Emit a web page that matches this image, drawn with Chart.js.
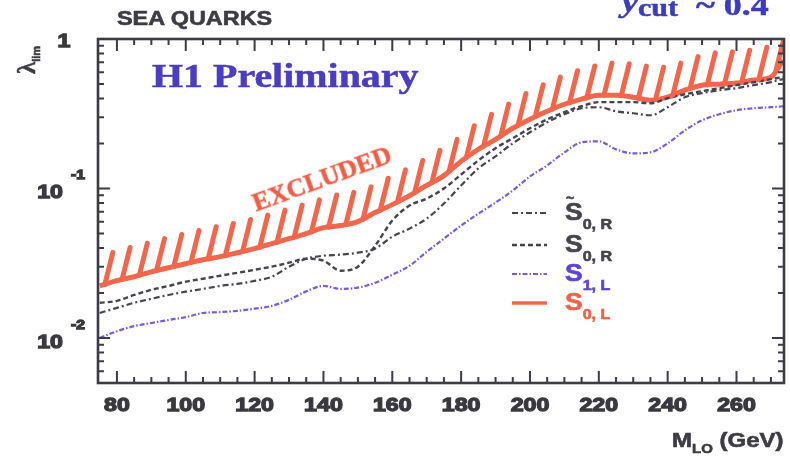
<!DOCTYPE html>
<html><head><meta charset="utf-8">
<script src="https://cdn.jsdelivr.net/npm/chart.js@4.4.1/dist/chart.umd.min.js"></script>
<style>
html,body{margin:0;padding:0;background:#fff;}
#wrap{position:relative;width:790px;height:459px;overflow:hidden;background:#fff;}
#c{position:absolute;left:0;top:0;}
.t{position:absolute;white-space:nowrap;line-height:1;transform-origin:0 0;}
.sans{font-family:'Liberation Sans',Arial,sans-serif;font-weight:bold;-webkit-text-stroke:0.6px currentColor;}
.serif{font-family:'Liberation Serif','Times New Roman',serif;font-weight:bold;-webkit-text-stroke:0.5px currentColor;}
.sub{position:relative;}
</style></head><body>
<div id="wrap">
<canvas id="c" width="790" height="459"></canvas>
<div class="t sans" style="left:117px;top:9px;font-size:19.5px;color:#3d3c44;transform:scaleX(1.2);">SEA QUARKS</div>
<div class="t serif" style="left:622px;top:-10px;font-size:30px;color:#3b3bbd;transform:scaleX(1.2);"><i class="sub" style="top:-3px">y</i><span class="sub" style="font-size:25px;top:1px">cut</span>&nbsp;&nbsp;~ 0.4</div>
<div class="t serif" style="left:152px;top:60px;font-size:33px;color:#4b3dc2;transform:scaleX(1.21);">H1 Preliminary</div>
<div class="t serif" style="left:322px;top:179px;font-size:26px;color:#f25c46;transform:translate(-50%,-50%) rotate(-20deg);transform-origin:50% 50%;">EXCLUDED</div>
<div class="t" style="left:26px;top:60px;color:#3d3c44;transform:translate(-50%,-50%) rotate(-90deg);transform-origin:50% 50%;"><span class="serif" style="font-size:25px">λ</span><span class="sans sub" style="font-size:11px;top:5px">lim</span></div>
<div class="t sans" style="left:566px;top:191px;font-size:14px;color:#46444e;">~</div>
<div class="t sans" style="left:565px;top:201px;font-size:23px;color:#46444e;transform:scaleX(1.15);">S<span class="sub" style="font-size:14px;top:9px">0, R</span></div>
<div class="t sans" style="left:565px;top:233px;font-size:23px;color:#46444e;transform:scaleX(1.15);">S<span class="sub" style="font-size:14px;top:9px">0, R</span></div>
<div class="t sans" style="left:565px;top:262px;font-size:23px;color:#5a43d6;transform:scaleX(1.15);">S<span class="sub" style="font-size:14px;top:9px">1, L</span></div>
<div class="t sans" style="left:565px;top:291px;font-size:23px;color:#f26048;transform:scaleX(1.15);">S<span class="sub" style="font-size:14px;top:9px">0, L</span></div>
<div class="t sans" style="left:672px;top:430px;font-size:20px;color:#3d3c44;transform:scaleX(1.2);">M<span class="sub" style="font-size:12.5px;top:6px">LO</span> (GeV)</div>
</div>
<script>
// ---- data ----
const massGeV = [75,80,85,90,95,100,105,110,115,120,125,130,135,140,145,150,155,160,165,170,175,180,185,190,195,200,205,210,215,220,225,230,235,240,245,250,255,260,265,270,273.5];
const sTilde0R = [0.0147,0.0159,0.0172,0.0183,0.0194,0.0204,0.0213,0.0223,0.0230,0.0241,0.0257,0.0300,0.0339,0.0355,0.0361,0.0372,0.0396,0.0476,0.0539,0.0629,0.0793,0.1047,0.1362,0.1640,0.2004,0.2376,0.2773,0.3138,0.3441,0.3496,0.3287,0.3187,0.3090,0.3496,0.4081,0.4341,0.4546,0.4690,0.4911,0.5144,0.5389];
const s0R = [0.0172,0.0177,0.0194,0.0210,0.0223,0.0238,0.0249,0.0261,0.0273,0.0286,0.0300,0.0319,0.0339,0.0329,0.0282,0.0300,0.0414,0.0610,0.0769,0.0857,0.100,0.124,0.154,0.186,0.217,0.253,0.290,0.324,0.355,0.378,0.378,0.378,0.372,0.402,0.427,0.448,0.469,0.491,0.514,0.539,0.556];
const s1L = [0.0100,0.0111,0.0120,0.0126,0.0132,0.0138,0.0147,0.0149,0.0152,0.0157,0.0164,0.0180,0.0205,0.0223,0.0213,0.0217,0.0234,0.0265,0.0304,0.0377,0.0462,0.0565,0.0679,0.0805,0.0970,0.1205,0.1426,0.1745,0.2036,0.2066,0.1827,0.1718,0.1745,0.2004,0.2449,0.2858,0.3140,0.3337,0.3443,0.3497,0.3551];
const s0L = [0.0223,0.0242,0.0257,0.0277,0.0295,0.0314,0.0334,0.0350,0.0372,0.0396,0.0428,0.0462,0.0499,0.0547,0.0565,0.0601,0.0690,0.0780,0.0897,0.105,0.122,0.152,0.183,0.213,0.253,0.291,0.329,0.366,0.396,0.421,0.421,0.408,0.390,0.408,0.455,0.491,0.499,0.507,0.531,0.556,0.72];
const seriesLabels = ['S̃0,R','S0,R','S1,L','S0,L'];
const xTickLabels = [80,100,120,140,160,180,200,220,240,260];
const yTickValues = [1,0.1,0.01];
const yTickMantissa = ['1','10','10'];
const yTickExponent = ['','-1','-2'];

// ---- styles ----
const RED='#f2674c', BLUE='#7a5ae0', DARK='#46444e', AXIS='#3e3b48', TXT='#3a3840';
const pts = arr => massGeV.map((m,i)=>({x:m,y:arr[i]}));
const common = {pointRadius:0, fill:false, cubicInterpolationMode:'monotone'};
const datasets = [
  Object.assign({label:seriesLabels[0], data:pts(sTilde0R), borderColor:DARK, borderWidth:2.2, borderDash:[6,3,2,3]},common),
  Object.assign({label:seriesLabels[1], data:pts(s0R), borderColor:DARK, borderWidth:2.4, borderDash:[5,3]},common),
  Object.assign({label:seriesLabels[2], data:pts(s1L), borderColor:BLUE, borderWidth:2.2, borderDash:[5,2,1.5,2]},common),
  Object.assign({label:seriesLabels[3], data:pts(s0L), borderColor:RED, borderWidth:5},common)
];

function logInterp(xs, ys, m){
  for(let i=0;i<xs.length-1;i++){
    if(m>=xs[i] && m<=xs[i+1]){
      const t=(m-xs[i])/(xs[i+1]-xs[i]);
      return Math.pow(10, Math.log10(ys[i])*(1-t)+Math.log10(ys[i+1])*t);
    }
  }
  return ys[ys.length-1];
}
function drawText(ctx,s,x,y,align,sx){
  ctx.save(); ctx.translate(x,y); ctx.scale(sx,1); ctx.textAlign=align;
  ctx.fillText(s,0,0); ctx.strokeText(s,0,0); ctx.restore();
}

const decor = {
  id:'decor',
  afterDatasetsDraw(chart){
    const ctx=chart.ctx, xs=chart.scales.x, ys=chart.scales.y, a=chart.chartArea;
    ctx.save();
    ctx.beginPath(); ctx.rect(a.left,a.top,a.right-a.left,a.bottom-a.top); ctx.clip();
    ctx.strokeStyle=RED; ctx.lineWidth=5; ctx.lineCap='round';
    for(let m=76.5;m<=273;m+=5){
      const v=logInterp(massGeV,s0L,m);
      const px=xs.getPixelForValue(m), py=ys.getPixelForValue(v);
      ctx.beginPath(); ctx.moveTo(px,py); ctx.lineTo(px+8,py-32); ctx.stroke();
    }
    ctx.restore();
  },
  afterDraw(chart){
    const ctx=chart.ctx, xs=chart.scales.x, ys=chart.scales.y, a=chart.chartArea;
    ctx.save();
    ctx.strokeStyle=AXIS; ctx.lineWidth=2.6; ctx.setLineDash([]);
    ctx.strokeRect(a.left,a.top,a.right-a.left,a.bottom-a.top);
    ctx.lineWidth=2;
    for(let m=75;m<=xs.max;m+=5){
      const px=xs.getPixelForValue(m);
      if(px-a.left<3||a.right-px<3) continue;
      const len=(m%20===0)?12:6;
      ctx.beginPath();
      ctx.moveTo(px,a.bottom); ctx.lineTo(px,a.bottom-len);
      ctx.moveTo(px,a.top); ctx.lineTo(px,a.top+len);
      ctx.stroke();
    }
    for(let e=-3;e<=0;e++){
      for(let k=1;k<=9;k++){
        const v=k*Math.pow(10,e);
        if(v<ys.min*0.999||v>ys.max*1.001) continue;
        const py=ys.getPixelForValue(v);
        const len=k===1?12:6;
        ctx.beginPath();
        ctx.moveTo(a.left,py); ctx.lineTo(a.left+len,py);
        ctx.moveTo(a.right,py); ctx.lineTo(a.right-len,py);
        ctx.stroke();
      }
    }
    ctx.fillStyle=TXT; ctx.strokeStyle=TXT; ctx.lineWidth=1.3;
    ctx.font="bold 19px 'Liberation Sans', Arial, sans-serif";
    ctx.textBaseline='alphabetic';
    xTickLabels.forEach(v=>{
      drawText(ctx,String(v),xs.getPixelForValue(v),411,'center',1.22);
    });
    yTickValues.forEach((v,i)=>{
      const py=ys.getPixelForValue(v);
      ctx.font="bold 19px 'Liberation Sans', Arial, sans-serif";
      if(yTickExponent[i]===''){
        drawText(ctx,yTickMantissa[i],64,py+8,'center',1.22);
      } else {
        drawText(ctx,yTickMantissa[i],63,py+10,'right',1.22);
        ctx.font="bold 13px 'Liberation Sans', Arial, sans-serif";
        drawText(ctx,yTickExponent[i],71,py-9,'left',1.2);
      }
    });
    const rows=[213,245,274,303];
    chart.data.datasets.forEach((ds,i)=>{
      ctx.setLineDash(ds.borderDash||[]);
      ctx.strokeStyle=ds.borderColor;
      ctx.lineWidth=ds.borderWidth>=4?3.5:ds.borderWidth;
      ctx.lineCap='butt';
      ctx.beginPath(); ctx.moveTo(512,rows[i]); ctx.lineTo(547,rows[i]); ctx.stroke();
    });
    ctx.restore();
  }
};

new Chart(document.getElementById('c'),{
  type:'line',
  data:{datasets},
  options:{
    responsive:false, animation:false, devicePixelRatio:1,
    layout:{padding:{left:98,top:39,right:6,bottom:76}},
    plugins:{legend:{display:false},tooltip:{enabled:false}},
    scales:{
      x:{type:'linear',min:74.5,max:273.8,display:false},
      y:{type:'logarithmic',min:0.005,max:1,display:false}
    }
  },
  plugins:[decor]
});
</script>
</body></html>
